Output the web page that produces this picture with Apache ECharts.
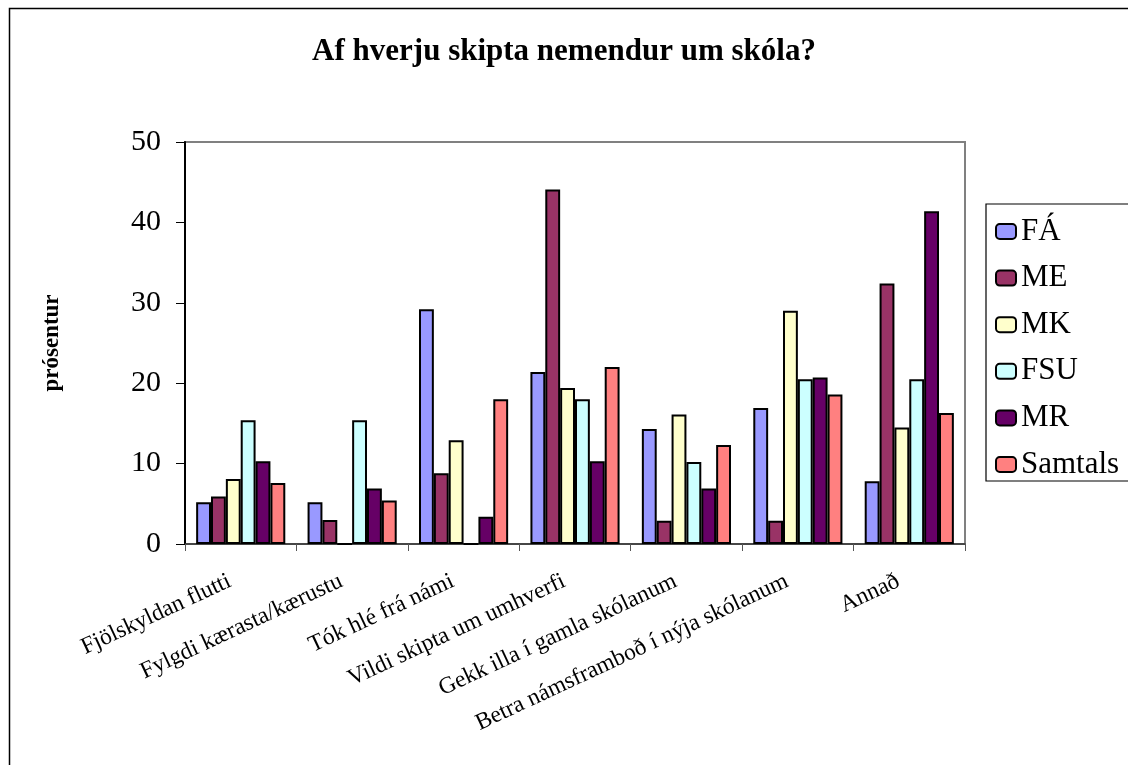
<!DOCTYPE html>
<html>
<head>
<meta charset="utf-8">
<title>Af hverju skipta nemendur um skóla?</title>
<script src="https://cdn.jsdelivr.net/npm/echarts@6/dist/echarts.min.js"></script>
<style>
  html, body { margin: 0; padding: 0; background: #fff; }
  #main { width: 1128px; height: 765px; }
</style>
</head>
<body>
<div id="main"></div>
<script>
// flokkar (ástæður)
var categories = [
  'Fjölskyldan flutti',
  'Fylgdi kærasta/kærustu',
  'Tók hlé frá námi',
  'Vildi skipta um umhverfi',
  'Gekk illa í gamla skólanum',
  'Betra námsframboð í nýja skólanum',
  'Annað'
];

// prósentur eftir skóla
var FA      = [5.2, 5.2, 29.2, 21.4, 14.3, 16.9, 7.8];
var ME      = [5.9, 3.0, 8.8, 44.1, 2.9, 2.9, 32.4];
var MK      = [8.1, 0, 12.9, 19.4, 16.1, 29.0, 14.5];
var FSU     = [15.4, 15.4, 0, 18.0, 10.2, 20.5, 20.5];
var MR      = [10.3, 6.9, 3.4, 10.3, 6.9, 20.7, 41.4];
var Samtals = [7.6, 5.4, 18.0, 22.0, 12.3, 18.6, 16.3];

var seriesNames = ['FÁ', 'ME', 'MK', 'FSU', 'MR', 'Samtals'];
var seriesData = [FA, ME, MK, FSU, MR, Samtals];
var colors = ['#9999FF', '#993366', '#FFFFCC', '#CCFFFF', '#660066', '#FF8080'];

var serif = "'Liberation Serif', 'Times New Roman', serif";

var myChart = echarts.init(document.getElementById('main'), null, { renderer: 'canvas' });

var option = {
  backgroundColor: '#fff',
  animation: false,
  textStyle: { fontFamily: serif, color: '#000' },
  title: {
    text: 'Af hverju skipta nemendur um skóla?',
    left: 'center',
    top: 31,
    textStyle: { fontFamily: serif, fontSize: 31, fontWeight: 'bold', color: '#000' }
  },
  legend: {
    orient: 'vertical',
    left: 995,
    top: 216,
    padding: 0,
    itemWidth: 20,
    itemHeight: 15,
    itemGap: 15.6,
    textStyle: { fontFamily: serif, fontSize: 31, color: '#000', lineHeight: 30, padding: [0, 0, 0, 0] },
    data: seriesNames
  },
  grid: {
    left: 185,
    top: 142,
    right: 163,
    bottom: 221,
    show: true,
    borderColor: '#808080',
    borderWidth: 2,
    containLabel: false
  },
  xAxis: {
    type: 'category',
    data: categories,
    axisLine: { lineStyle: { color: '#333', width: 1.5 } },
    axisTick: { show: true, length: 7, inside: false, lineStyle: { color: '#555', width: 1 } },
    axisLabel: {
      interval: 0,
      rotate: 25,
      margin: 31,
      padding: [0, 12, 0, 0],
      fontFamily: serif,
      fontSize: 23.5,
      color: '#000'
    }
  },
  yAxis: {
    type: 'value',
    min: 0,
    max: 50,
    interval: 10,
    name: 'prósentur',
    nameLocation: 'middle',
    nameGap: 121,
    nameTextStyle: { fontFamily: serif, fontSize: 23, fontWeight: 'bold', color: '#000' },
    axisLine: { show: true, lineStyle: { color: '#000', width: 2 } },
    axisTick: { show: true, length: 9, lineStyle: { color: '#000', width: 1 } },
    splitLine: { show: false },
    axisLabel: { fontFamily: serif, fontSize: 30, color: '#000', margin: 24 }
  },
  graphic: [
    {
      type: 'rect',
      shape: { x: 9.5, y: 8.5, width: 1200, height: 900 },
      style: { fill: null, stroke: '#000', lineWidth: 1.5 },
      silent: true,
      z: -1
    },
    {
      type: 'rect',
      shape: { x: 986, y: 204, width: 200, height: 277 },
      style: { fill: null, stroke: '#000', lineWidth: 1.2 },
      silent: true
    }
  ],
  series: seriesData.map(function (d, i) {
    return {
      name: seriesNames[i],
      type: 'bar',
      data: d,
      barGap: '0%',
      barCategoryGap: '20%',
      itemStyle: { color: colors[i], borderColor: '#000', borderWidth: 2 }
    };
  })
};

myChart.setOption(option);
</script>
</body>
</html>
